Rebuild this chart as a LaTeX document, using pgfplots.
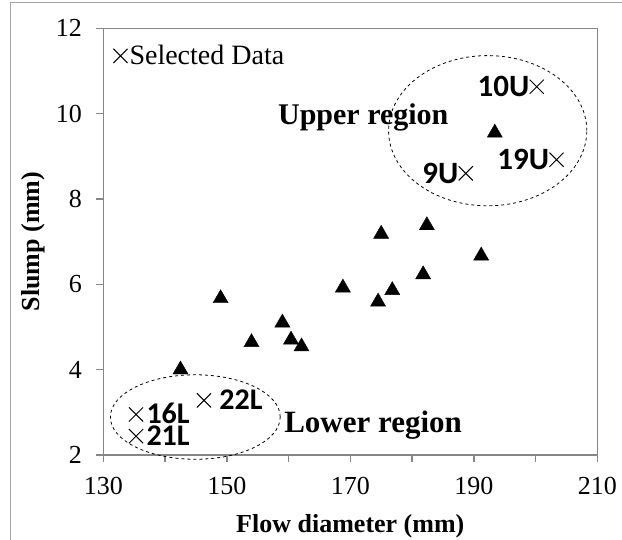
\documentclass[border=0pt]{standalone}
\usepackage{fontspec}
\setmainfont{Liberation Serif}
\newfontfamily\calib{Carlito}
\usepackage{pgfplots}
\pgfplotsset{compat=1.18}
\definecolor{axgray}{HTML}{868686}
\definecolor{framegray}{HTML}{A6A6A6}

\begin{document}
\begin{tikzpicture}
\useasboundingbox (0,0) rectangle (622pt,540pt);
\draw[framegray, line width=1pt] (10pt,0pt) -- (10pt,537.3pt) -- (622pt,537.3pt);
\begin{axis}[
    at={(103.3pt,85pt)}, anchor=south west,
    scale only axis, width=494pt, height=426.7pt,
    xmin=130, xmax=210, ymin=2, ymax=12,
    xtick={130,140,...,210},
    xticklabels={130,,150,,170,,190,,210},
    ytick={2,4,...,12},
    tick pos=left,
    tick align=outside, major tick length=7pt,
    axis line style={axgray, line width=1.5pt},
    tick style={axgray, line width=1.5pt},
    ticklabel style={font=\fontsize{26}{30}\selectfont},
    xticklabel style={yshift=-12pt},
    yticklabel style={xshift=-11pt},
    /pgf/number format/assume math mode=true,
    xlabel={Flow diameter (mm)},
    ylabel={Slump (mm)},
    label style={font=\fontsize{26}{30}\selectfont\bfseries},
    xlabel style={at={(axis description cs:0.5,-0.168)}, anchor=center},
    ylabel style={at={(axis description cs:-0.142,0.5)}, anchor=center},
    clip=false,
    legend style={draw=none, fill=none, at={(axis description cs:0.02,0.965)}, anchor=north west,
        font=\fontsize{28}{32}\selectfont, inner sep=0pt,
        /tikz/every even column/.append style={column sep=0pt}},
    legend cell align=left,
]
% triangles: all mixes
\addplot[only marks, mark=triangle*, mark size=8.7pt, black, forget plot] coordinates {
    (142.5,4.00) (149.0,5.67) (154.0,4.64) (159.0,5.10) (160.4,4.70) (162.1,4.54)
    (168.8,5.92) (174.5,5.59) (176.8,5.86) (181.8,6.23) (175.0,7.18) (182.4,7.38)
    (191.2,6.67) (193.4,9.55)
};
% selected data, upper region (labels on the left)
\addplot[only marks, mark=x, mark size=10pt, black, line width=1pt,
    legend image code/.code={\draw[##1] plot coordinates {(7pt,0pt)};},
    point meta=explicit symbolic, nodes near coords,
    every node near coord/.append style={anchor=east, xshift=-7pt,
        font=\calib\bfseries\fontsize{31}{34}\selectfont,
        inner sep=0pt, text height=19.5pt, text depth=0pt}]
    table[meta=label] {
x y label
200.2 10.63 10U
203.4 8.92 19U
188.7 8.60 9U
};
\addlegendentry{Selected Data}
% selected data, lower region (labels on the right)
\addplot[only marks, mark=x, mark size=10pt, black, line width=1pt, forget plot,
    point meta=explicit symbolic, nodes near coords,
    visualization depends on={\thisrow{dx} \as \dx},
    every node near coord/.append style={anchor=west, xshift=\dx pt,
        font=\calib\bfseries\fontsize{30}{34}\selectfont,
        inner sep=0pt, text height=19pt, text depth=0pt}]
    table[meta=label] {
x y label dx
135.3 2.95 16L 10
135.3 2.44 21L 10
146.3 3.28 22L 15
};
\draw[dashed, line width=0.8pt] (axis cs:192.25,9.6) ellipse [x radius=16.05, y radius=1.76];
\draw[dashed, line width=0.8pt] (axis cs:144.9,2.89) ellipse [x radius=13.75, y radius=0.99];
\node[font=\fontsize{30}{34}\selectfont\bfseries] at (axis cs:172.1,9.90) {Upper region};
\node[font=\fontsize{31}{34}\selectfont\bfseries] at (axis cs:173.7,2.70) {Lower region};
\end{axis}
\end{tikzpicture}
\end{document}
